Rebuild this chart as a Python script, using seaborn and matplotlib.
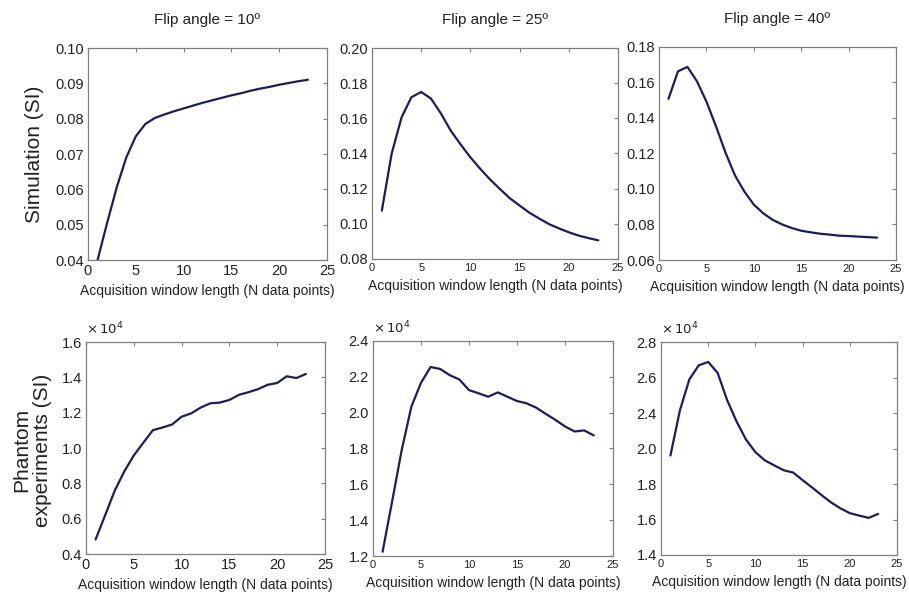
import numpy as np
import pandas as pd
import matplotlib
matplotlib.use("Agg")
import matplotlib.pyplot as plt
import seaborn as sns

# acquisition window length (N data points)
n_points = list(range(1, 24))

# simulated signal intensity, one list per flip angle
sim_10 = [0.0400, 0.0505, 0.0605, 0.0690, 0.0750, 0.0785, 0.0802, 0.0812, 0.0821, 0.0829,
          0.0837, 0.0845, 0.0852, 0.0859, 0.0866, 0.0872, 0.0879, 0.0885, 0.0890, 0.0896,
          0.0901, 0.0906, 0.0910]
sim_25 = [0.1075, 0.1400, 0.1605, 0.1720, 0.1750, 0.1712, 0.1628, 0.1530, 0.1452, 0.1378,
          0.1313, 0.1252, 0.1198, 0.1146, 0.1104, 0.1063, 0.1030, 0.0998, 0.0974, 0.0952,
          0.0933, 0.0919, 0.0906]
sim_40 = [0.1508, 0.1663, 0.1688, 0.1607, 0.1493, 0.1355, 0.1207, 0.1078, 0.0986, 0.0912,
          0.0863, 0.0826, 0.0800, 0.0780, 0.0765, 0.0756, 0.0748, 0.0743, 0.0737, 0.0735,
          0.0732, 0.0729, 0.0726]

# phantom signal intensity (x 10^4)
phantom_10 = [0.482, 0.619, 0.758, 0.867, 0.958, 1.030, 1.101, 1.116, 1.133, 1.177,
              1.196, 1.229, 1.253, 1.257, 1.272, 1.301, 1.316, 1.333, 1.358, 1.368,
              1.406, 1.396, 1.419]
phantom_25 = [1.224, 1.507, 1.794, 2.034, 2.167, 2.255, 2.244, 2.209, 2.185, 2.126,
              2.108, 2.089, 2.113, 2.089, 2.065, 2.052, 2.028, 1.993, 1.960, 1.923,
              1.895, 1.901, 1.873]
# 40 deg panel: axis has 7 evenly spaced ticks labelled as in the source figure
phantom_40 = [2.054, 2.350, 2.554, 2.647, 2.669, 2.597, 2.419, 2.278, 2.159, 2.076,
              2.022, 1.989, 1.957, 1.942, 1.892, 1.844, 1.794, 1.746, 1.707, 1.675,
              1.659, 1.644, 1.670]

titles = ["Flip angle = 10º", "Flip angle = 25º", "Flip angle = 40º"]
sim_ticks = [[0.04, 0.05, 0.06, 0.07, 0.08, 0.09, 0.10],
             [0.08, 0.10, 0.12, 0.14, 0.16, 0.18, 0.20],
             [0.06, 0.08, 0.10, 0.12, 0.14, 0.16, 0.18]]
phantom_ticks = [[0.4, 0.6, 0.8, 1.0, 1.2, 1.4, 1.6],
                 [1.2, 1.4, 1.6, 1.8, 2.0, 2.2, 2.4],
                 list(np.linspace(1.4, 2.8, 7))]
phantom_labels = [["0.4", "0.6", "0.8", "1.0", "1.2", "1.4", "1.6"],
                  ["1.2", "1.4", "1.6", "1.8", "2.0", "2.2", "2.4"],
                  ["1.4", "1.6", "1.8", "2.0", "2.4", "2.6", "2.8"]]
sim_labels = [["%.2f" % t for t in ticks] for ticks in sim_ticks]

sns.set_style("white")
plt.rcParams['font.family'] = ['Liberation Sans', 'DejaVu Sans']

W, H = 909, 595
fig = plt.figure(figsize=(W / 100, H / 100), dpi=100)

# axes boxes in pixels: left, top, right, bottom
boxes = [[(88, 48, 327, 260), (372, 48, 618, 259), (659, 47, 896, 260)],
         [(86, 342, 325, 554), (373, 341, 613, 556), (661, 342, 897, 555)]]
xtick_sizes = [[10.5, 8, 8], [10.5, 8, 8]]

line_col = "#1c1c5e"
spine_col = "#7f7f7f"

rows = [[sim_10, sim_25, sim_40], [phantom_10, phantom_25, phantom_40]]
yticks = [sim_ticks, phantom_ticks]
ylabels = [sim_labels, phantom_labels]

for r in range(2):
    for c in range(3):
        l, t, rr, b = boxes[r][c]
        ax = fig.add_axes([l / W, 1 - b / H, (rr - l) / W, (b - t) / H])
        df = pd.DataFrame({"n": n_points, "si": rows[r][c]})
        sns.lineplot(data=df, x="n", y="si", ax=ax, color=line_col, linewidth=1.6)
        ax.set_xlim(0, 25)
        ax.set_xticks([0, 5, 10, 15, 20, 25])
        ax.set_ylim(yticks[r][c][0], yticks[r][c][-1])
        ax.set_yticks(yticks[r][c])
        ax.set_yticklabels(ylabels[r][c], fontsize=10.5, color="#222222")
        ax.tick_params(axis="x", labelsize=xtick_sizes[r][c], colors="#222222")
        ax.tick_params(direction="in", length=3, top=True, right=True,
                       color=spine_col, width=0.8, pad=3)
        for s in ax.spines.values():
            s.set_color(spine_col)
            s.set_linewidth(0.9)
        ax.set_xlabel("Acquisition window length (N data points)", fontsize=10,
                      color="#222222", labelpad=4)
        ax.set_ylabel("")
        if r == 0:
            ax.set_title(titles[c], fontsize=11, color="#222222", pad=17)
        else:
            ax.text(0.0, 1.02, r"$\times\,10^{4}$", transform=ax.transAxes,
                    fontsize=9.5, color="#222222", ha="left", va="bottom")

fig.text(35 / W, 1 - 154 / H, "Simulation (SI)", rotation=90, fontsize=15,
         ha="center", va="center", color="#222222")
fig.text(32 / W, 1 - 450 / H, "Phantom\nexperiments (SI)", rotation=90, fontsize=15,
         ha="center", va="center", color="#222222", linespacing=1.1)

fig.savefig("out.png", dpi=100, facecolor="white")
